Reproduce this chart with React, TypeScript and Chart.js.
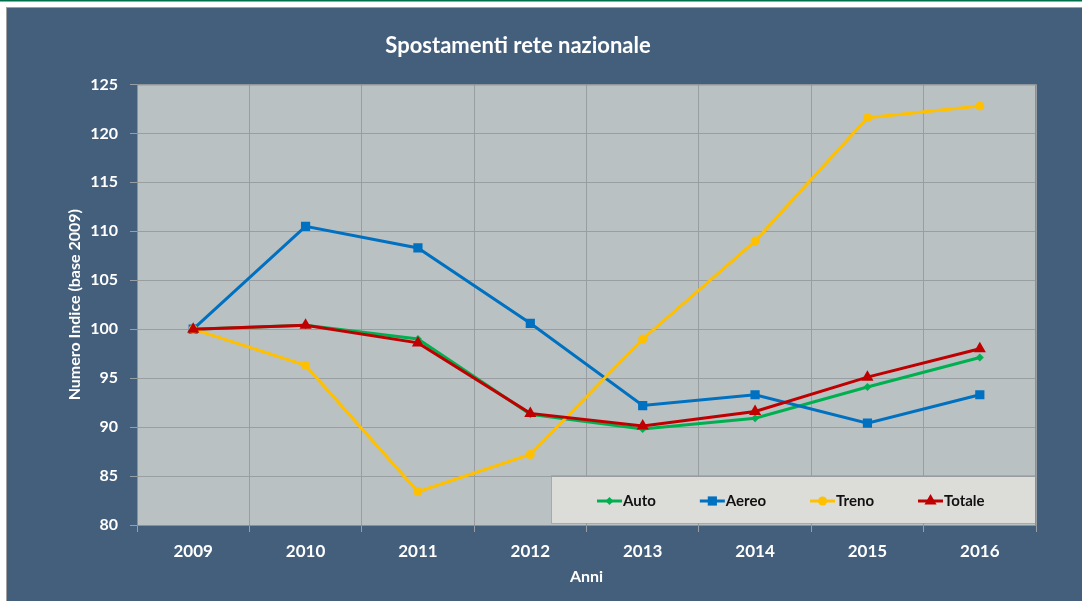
import React, { useEffect, useRef } from "react";
import { Chart, registerables } from "chart.js";

Chart.register(...registerables);

const years = ["2009", "2010", "2011", "2012", "2013", "2014", "2015", "2016"];
const autoValues = [100, 100.4, 99.0, 91.3, 89.8, 90.9, 94.1, 97.1];
const aereoValues = [100, 110.5, 108.3, 100.6, 92.2, 93.3, 90.4, 93.3];
const trenoValues = [100, 96.3, 83.4, 87.2, 99.0, 109.0, 121.6, 122.8];
const totaleValues = [100, 100.4, 98.6, 91.4, 90.1, 91.6, 95.1, 98.0];
const seriesNames = ["Auto", "Aereo", "Treno", "Totale"];
const chartTitle = "Spostamenti rete nazionale";
const yTitle = "Numero Indice (base 2009)";
const xTitle = "Anni";
const yMin = 80;
const yMax = 125;
const yStep = 5;

const FONT = "Lato, 'Open Sans', 'DejaVu Sans', sans-serif";
const COLORS = ["#00b050", "#0070c0", "#ffc000", "#c00000"];
const STYLES = ["rectRot", "rect", "circle", "triangle"];
const RADII = [4, 6.5, 4.5, 7];

function drawMarker(ctx: CanvasRenderingContext2D, style: string, x: number, y: number, r: number) {
  ctx.beginPath();
  if (style === "circle") {
    ctx.arc(x, y, r, 0, Math.PI * 2);
  } else if (style === "rect") {
    const s = r * Math.SQRT1_2;
    ctx.rect(x - s, y - s, 2 * s, 2 * s);
  } else if (style === "rectRot") {
    ctx.moveTo(x, y - r);
    ctx.lineTo(x + r, y);
    ctx.lineTo(x, y + r);
    ctx.lineTo(x - r, y);
    ctx.closePath();
  } else {
    const h = r;
    ctx.moveTo(x, y - h);
    ctx.lineTo(x + h * 0.866, y + h * 0.5);
    ctx.lineTo(x - h * 0.866, y + h * 0.5);
    ctx.closePath();
  }
  ctx.fill();
}

const backgroundPlugin = {
  id: "bgPanel",
  beforeDraw(chart: any) {
    const { ctx, width, height, chartArea } = chart;
    ctx.save();
    ctx.fillStyle = "#ffffff";
    ctx.fillRect(0, 0, width, height);
    ctx.fillStyle = "#00704a";
    ctx.fillRect(0, 0, width, 1.5);
    ctx.fillStyle = "#a0a0a0";
    ctx.fillRect(6, 7, width - 6, height - 7);
    ctx.fillStyle = "#445f7c";
    ctx.fillRect(7, 8, width - 7, height - 8);
    ctx.fillStyle = "#b9c1c3";
    ctx.fillRect(chartArea.left, chartArea.top, chartArea.right - chartArea.left, chartArea.bottom - chartArea.top);
    ctx.restore();
  },
  afterDraw(chart: any) {
    const { ctx, chartArea } = chart;
    ctx.save();
    ctx.strokeStyle = "#8a9196";
    ctx.lineWidth = 1;
    ctx.strokeRect(chartArea.left + 0.5, chartArea.top + 0.5, chartArea.right - chartArea.left - 1, chartArea.bottom - chartArea.top);
    ctx.restore();
  },
};

const legendPlugin = {
  id: "boxLegend",
  afterDatasetsDraw(chart: any) {
    const { ctx, chartArea } = chart;
    const boxLeft = chartArea.right - 484;
    const boxTop = chartArea.bottom - 48;
    const boxW = 484;
    const boxH = 46;
    ctx.save();
    ctx.fillStyle = "rgba(150,155,158,0.6)";
    ctx.fillRect(boxLeft - 1, boxTop - 2, boxW + 1, boxH + 3);
    ctx.fillStyle = "#dcddd8";
    ctx.fillRect(boxLeft, boxTop, boxW, boxH);
    ctx.font = "bold 15px " + FONT;
    ctx.textBaseline = "middle";
    ctx.textAlign = "left";
    const cy = boxTop + 24;
    let x = boxLeft + 45;
    seriesNames.forEach((name, i) => {
      ctx.strokeStyle = COLORS[i];
      ctx.fillStyle = COLORS[i];
      ctx.lineWidth = 3;
      ctx.beginPath();
      ctx.moveTo(x, cy);
      ctx.lineTo(x + 25, cy);
      ctx.stroke();
      drawMarker(ctx, STYLES[i], x + 12.5, cy, RADII[i]);
      ctx.fillStyle = "#111111";
      ctx.fillText(name, x + 26, cy);
      const w = ctx.measureText(name).width;
      x += 26 + w + 44;
    });
    ctx.restore();
  },
};

export default function App() {
  const canvasRef = useRef<HTMLCanvasElement | null>(null);

  useEffect(() => {
    if (!canvasRef.current) return;
    const values = [autoValues, aereoValues, trenoValues, totaleValues];
    const chart = new Chart(canvasRef.current, {
      type: "line",
      data: {
        labels: years,
        datasets: seriesNames.map((name, i) => ({
          label: name,
          data: values[i],
          borderColor: COLORS[i],
          backgroundColor: COLORS[i],
          borderWidth: 3,
          pointStyle: STYLES[i] as any,
          pointRadius: RADII[i],
          pointBorderWidth: 0,
          tension: 0,
          order: 3 - i,
        })),
      },
      options: {
        responsive: false,
        animation: false,
        devicePixelRatio: 1,
        layout: { padding: { left: 0, right: 46, top: 0, bottom: 0 } },
        plugins: {
          legend: { display: false },
          tooltip: { enabled: false },
          title: {
            display: true,
            text: chartTitle,
            color: "#ffffff",
            font: { family: FONT, size: 22, weight: "bold" },
            padding: { top: 33, bottom: 25 },
          },
        },
        scales: {
          x: {
            type: "category",
            offset: true,
            grid: { color: "#989ea2", tickLength: 7, offset: true },
            border: { color: "#8a9196" },
            ticks: { color: "#ffffff", font: { family: FONT, size: 17, weight: "bold" }, padding: 9, maxRotation: 0 },
            title: {
              display: true,
              text: xTitle,
              color: "#ffffff",
              font: { family: FONT, size: 16, weight: "bold" },
              padding: { top: 0, bottom: 15 },
            },
            afterFit(scale: any) {
              scale.height = 76;
            },
          },
          y: {
            min: yMin,
            max: yMax,
            grid: { color: "#989ea2", tickLength: 7 },
            border: { color: "#8a9196" },
            ticks: { stepSize: yStep, color: "#ffffff", font: { family: FONT, size: 16, weight: "bold" }, padding: 12 },
            title: {
              display: true,
              text: yTitle,
              color: "#ffffff",
              font: { family: FONT, size: 16, weight: "bold" },
              padding: { top: 65, bottom: 0 },
            },
            afterFit(scale: any) {
              scale.width = 137;
            },
          },
        },
      },
      plugins: [backgroundPlugin, legendPlugin],
    });
    return () => chart.destroy();
  }, []);

  return (
    <div style={{ position: "fixed", left: 0, top: 0, width: 1082, height: 601 }}>
      <canvas ref={canvasRef} width={1082} height={601} style={{ display: "block" }} />
    </div>
  );
}
